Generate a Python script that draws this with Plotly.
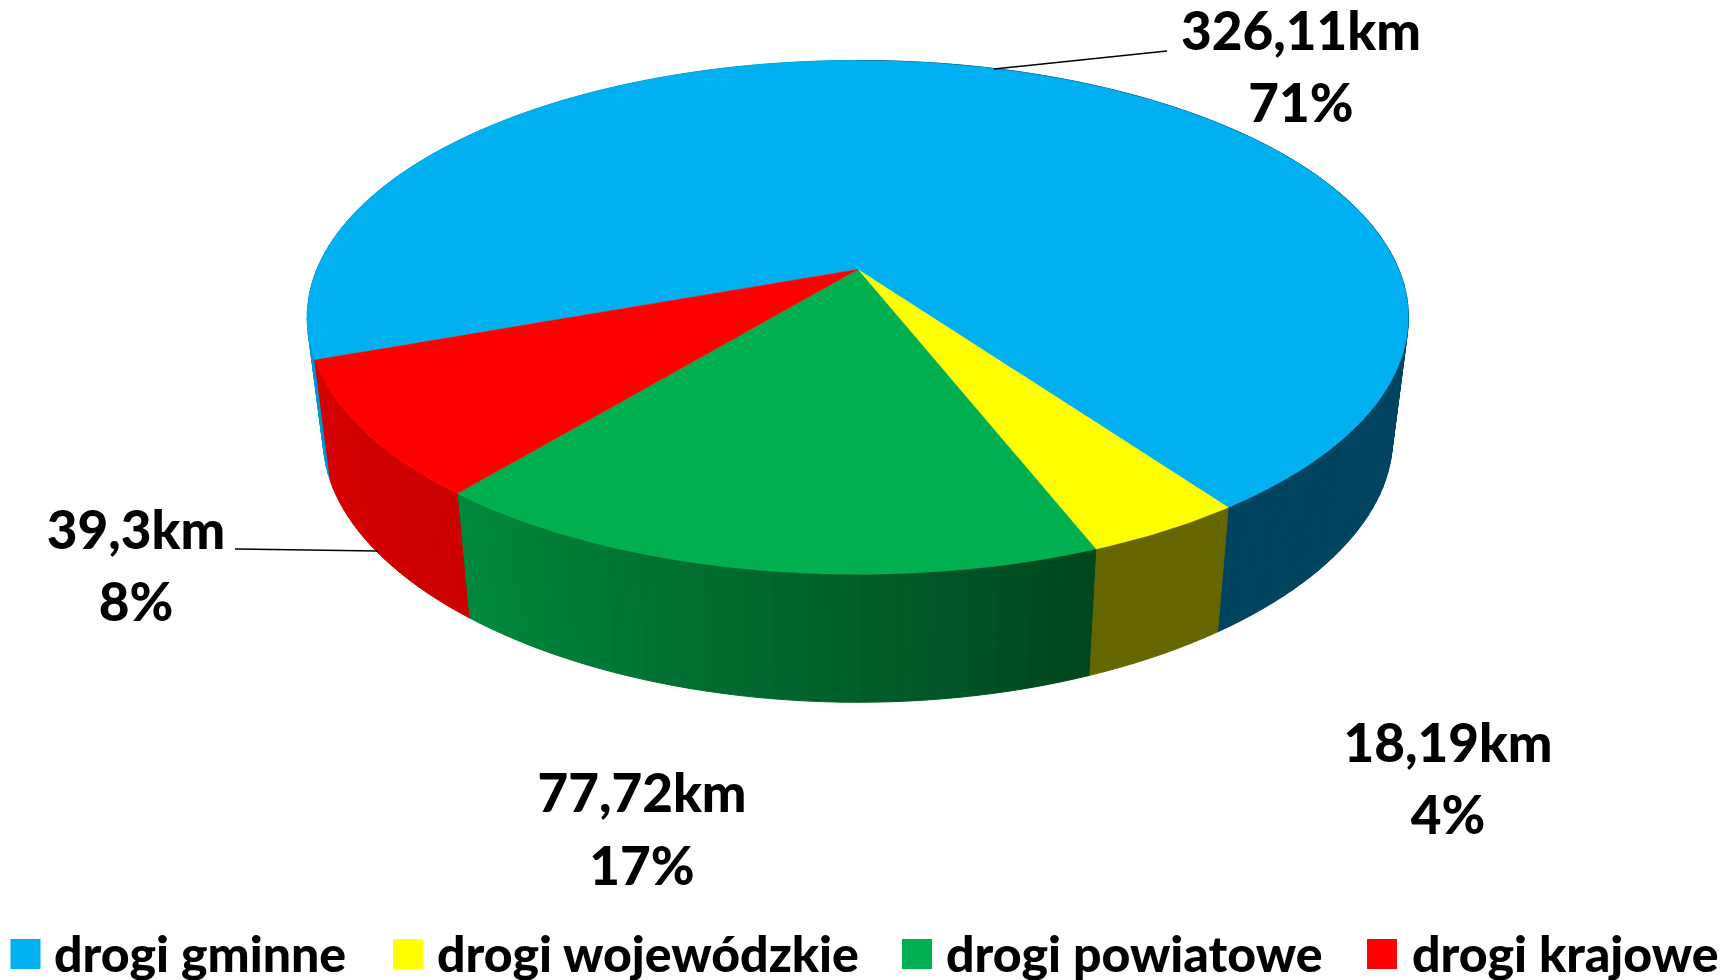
import numpy as np
import plotly.graph_objects as go

# ---- data ----
categories = ["drogi gminne", "drogi wojewódzkie", "drogi powiatowe", "drogi krajowe"]
values_km = [326.11, 18.19, 77.72, 39.3]
value_text = ["326,11km", "18,19km", "77,72km", "39,3km"]
percent_text = ["71%", "4%", "17%", "8%"]
top_colors = ["#00B0F0", "#FFFF00", "#00B050", "#FF0000"]

# ---- layout / style ----
W, H = 1725, 980
FONT = "Lato"
START_DEG = -70.0          # angle from "towards viewer", decreasing = clockwise on screen
CX, TOP_Y, BOT_Y = 857.8, 269.5, 392.0
A, B, K, S = 541.0, 248.0, 0.1863, 0.971
BOT_B, BOT_K = 242.0, 0.22
label_x = [1301, 1448, 642, 136]
label_y1 = [37, 749, 799, 536]
label_y2 = [109, 821, 872, 608]
legend_mark_x = [25.5, 408, 917, 1382]
legend_text_x = [54, 437, 946, 1412]
LEGEND_Y = 954
LABEL_SIZE = 53
LEGEND_SIZE = 50


def project(phi_deg, bottom=False):
    p = np.radians(phi_deg)
    u, v = np.sin(p), np.cos(p)
    w = 1 - K * v
    if bottom:
        return CX + S * A * u / w, BOT_Y + BOT_B * v / (1 - BOT_K * v)
    return CX + A * u / w, TOP_Y + B * v / w


def lerp(c1, c2, t):
    return "rgb(%d,%d,%d)" % tuple(round(a + (b - a) * t) for a, b in zip(c1, c2))


def side_color(i, phi, t):
    if i == 0:
        return "#0098D4" if phi > -180 else "#00445F"
    if i == 1:
        return "#666600"
    if i == 2:
        return lerp((0, 70, 30), (0, 138, 62), t)
    return lerp((204, 0, 0), (214, 0, 0), t)


fig = go.Figure()
total = sum(values_km)
spans = [v / total * 360 for v in values_km]
starts = START_DEG - np.cumsum([0] + spans[:-1])

# side walls
for i, (st, sp) in enumerate(zip(starts, spans)):
    n = max(int(sp / 1.5), 3)
    edges = np.linspace(st, st - sp, n + 1)
    for j in range(n):
        a0, a1 = edges[j], edges[j + 1]
        arc = np.linspace(a0, a1, 4)
        xt, yt = project(arc)
        xb, yb = project(arc[::-1], bottom=True)
        col = side_color(i, (a0 + a1) / 2, (j + 0.5) / n)
        fig.add_trace(go.Scatter(
            x=np.r_[xt, xb, xt[0]], y=np.r_[yt, yb, yt[0]], mode="lines",
            fill="toself", fillcolor=col, line=dict(color=col, width=1),
            hoverinfo="skip", showlegend=False))

# top faces
for i, (st, sp) in enumerate(zip(starts, spans)):
    arc = np.linspace(st, st - sp, max(int(sp * 2), 8))
    xt, yt = project(arc)
    fig.add_trace(go.Scatter(
        x=np.r_[CX, xt, CX], y=np.r_[TOP_Y, yt, TOP_Y], mode="lines",
        fill="toself", fillcolor=top_colors[i], line=dict(color=top_colors[i], width=0.5),
        name=categories[i], text=[value_text[i]], hoverinfo="name", showlegend=False))

# leader lines
leader_x = [[994, 1167], [235, 378]]
leader_y = [[69, 51], [549, 551]]
for lx, ly in zip(leader_x, leader_y):
    fig.add_trace(go.Scatter(x=lx, y=ly, mode="lines", line=dict(color="black", width=1.5),
                             hoverinfo="skip", showlegend=False))

# data labels
label_font = dict(family=FONT, size=LABEL_SIZE, color="black", weight=900)
fig.add_trace(go.Scatter(x=label_x, y=label_y1, mode="text", text=value_text,
                         textposition="middle center", textfont=label_font,
                         hoverinfo="skip", showlegend=False))
fig.add_trace(go.Scatter(x=label_x, y=label_y2, mode="text", text=percent_text,
                         textposition="middle center", textfont=label_font,
                         hoverinfo="skip", showlegend=False))

# legend
fig.add_trace(go.Scatter(x=legend_mark_x, y=[LEGEND_Y] * 4, mode="markers",
                         marker=dict(symbol="square", size=30, color=top_colors, line=dict(width=0)),
                         hoverinfo="skip", showlegend=False))
fig.add_trace(go.Scatter(x=legend_text_x, y=[LEGEND_Y + 5] * 4, mode="text", text=categories,
                         textposition="middle right",
                         textfont=dict(family=FONT, size=LEGEND_SIZE, color="black", weight=900),
                         hoverinfo="skip", showlegend=False))

fig.update_layout(
    width=W, height=H, margin=dict(l=0, r=0, t=0, b=0),
    paper_bgcolor="white", plot_bgcolor="white", showlegend=False,
    xaxis=dict(range=[0, W], visible=False, fixedrange=True),
    yaxis=dict(range=[H, 0], visible=False, fixedrange=True),
)
fig.write_html("out.html", post_script="document.body.style.margin='0';document.body.style.overflow='hidden';",
               config={"displayModeBar": False})
